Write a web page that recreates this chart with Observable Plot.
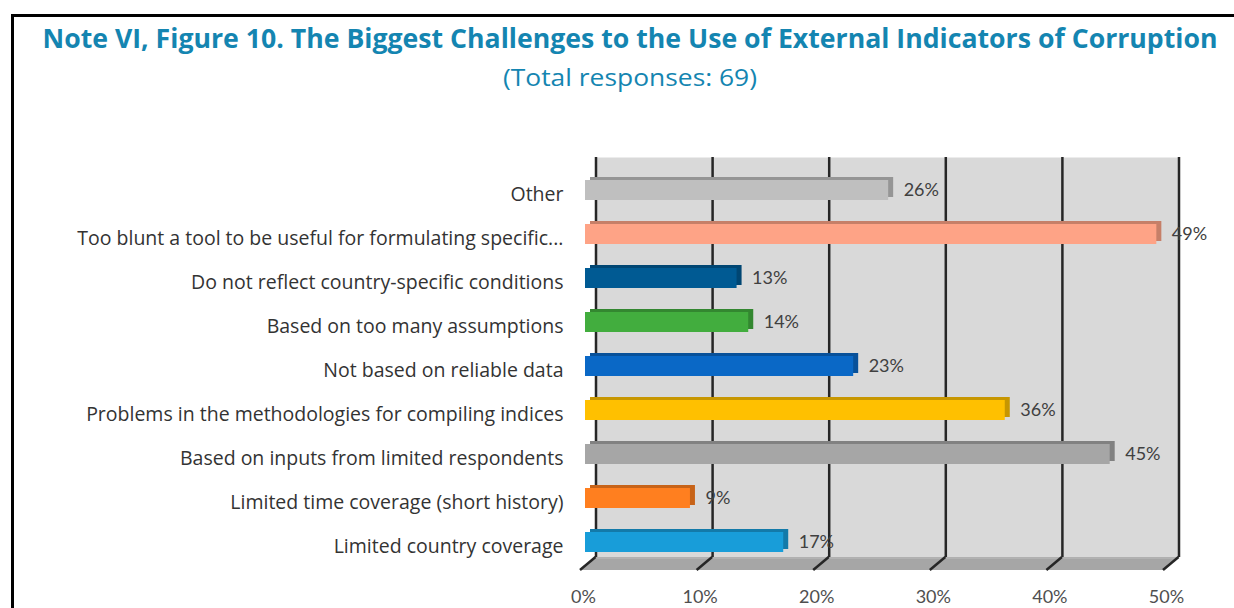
<!DOCTYPE html>
<html>
<head>
<meta charset="utf-8">
<script src="https://cdn.jsdelivr.net/npm/d3@7"></script>
<script src="https://cdn.jsdelivr.net/npm/@observablehq/plot@0.6"></script>
<style>
  html, body { margin: 0; padding: 0; background: #fff; overflow: hidden; width: 1234px; height: 608px; }
  #border { position: absolute; left: 11px; top: 14px; width: 2000px; height: 2000px;
            border-left: 3px solid #000; border-top: 3px solid #000; box-sizing: border-box; }
  #head { position: relative; height: 120px; }
  .ttl { position: absolute; left: 630px; white-space: nowrap; color: #1485b1; transform-origin: 0 0; }
  #title { top: 25px; font: 700 26px/26px "Open Sans", sans-serif; }
  #subtitle { top: 66px; font: 400 23px/23px "Open Sans", sans-serif; }
  #chart { position: relative; }
</style>
</head>
<body>
<div id="border"></div>
<div id="head">
  <div id="title" class="ttl">Note VI, Figure 10. The Biggest Challenges to the Use of External Indicators of Corruption</div>
  <div id="subtitle" class="ttl">(Total responses: 69)</div>
</div>
<div id="chart"></div>
<script>
// ---- data ----
const categories = [
  "Other",
  "Too blunt a tool to be useful for formulating specific...",
  "Do not reflect country-specific conditions",
  "Based on too many assumptions",
  "Not based on reliable data",
  "Problems in the methodologies for compiling indices",
  "Based on inputs from limited respondents",
  "Limited time coverage (short history)",
  "Limited country coverage"
];
const values = [26, 49, 13, 14, 23, 36, 45, 9, 17];
const colors = ["#bfbfbf", "#fea386", "#005a93", "#42ad3e", "#0a68c6", "#ffc000", "#a6a6a6", "#ff7f1f", "#189dd9"];
const tickValues = [0, 10, 20, 30, 40, 50];
const tickLabels = ["0%", "10%", "20%", "30%", "40%", "50%"];

const data = categories.map((c, i) => ({cat: c, value: values[i], color: colors[i],
  shade: d3.color(colors[i]).darker(0.7).formatHex()}));
const ticks = tickValues.map((t, i) => ({t, label: tickLabels[i]}));

// ---- title sizing ----
function fit(id, target) {
  const el = document.getElementById(id);
  const w = el.getBoundingClientRect().width;
  const s = target / w;
  el.style.transform = `scaleX(${s}) translateX(-50%)`;
}
fit("title", 1175);
fit("subtitle", 254);

// ---- 3D depth offsets ----
const backDx = 10.5, floorDy = 13, frontDx = -5;

// custom mark: floor and diagonal floor lines
function floorMark(index, scales, values, dim) {
  const sc = scales && scales.x ? scales : index;
  const dm = dim || scales;
  const x = sc.x;
  const yBack = dm.height - dm.marginBottom - floorDy;
  const yFront = dm.height - dm.marginBottom;
  const g = d3.create("svg:g");
  const x0 = x(tickValues[0]), x1 = x(tickValues[tickValues.length - 1]);
  g.append("path")
    .attr("d", `M${x0 + backDx},${yBack}L${x1 + backDx},${yBack}L${x1 + frontDx},${yFront}L${x0 + frontDx},${yFront}Z`)
    .attr("fill", "#a6a6a6");
  g.append("path")
    .attr("d", `M${x0 + backDx},${yBack + 1}L${x1 + backDx},${yBack + 1}`)
    .attr("stroke", "#bdbdbd").attr("stroke-width", 1);
  for (const t of tickValues) {
    g.append("line")
      .attr("x1", x(t) + backDx).attr("y1", yBack)
      .attr("x2", x(t) + frontDx).attr("y2", yFront)
      .attr("stroke", "#262626").attr("stroke-width", 2.5);
  }
  return g.node();
}

const plot = Plot.plot({
  width: 1234,
  height: 488,
  marginLeft: 585,
  marginRight: 66,
  marginTop: 37,
  marginBottom: 38,
  style: {background: "transparent", overflow: "visible"},
  x: {domain: [0, 50], range: [585, 1168], axis: null},
  y: {domain: categories, type: "band", range: [32.4, 458.6], padding: 0.55, axis: null},
  marks: [
    // back wall
    Plot.frame({fill: "#d9d9d9", stroke: "none", dx: backDx, insetBottom: floorDy}),
    // floor
    floorMark,
    // back gridlines
    Plot.ruleX(tickValues, {dx: backDx, insetBottom: floorDy, stroke: "#262626", strokeWidth: 2.5}),
    // bar extrusion (top + side faces)
    Plot.barX(data, {y: "cat", x: "value", fill: "shade", dx: 5, dy: -3}),
    // bar front faces
    Plot.barX(data, {y: "cat", x: "value", fill: "color"}),
    // value labels
    Plot.text(data, {y: "cat", x: "value", text: d => d.value + "%", dx: 15, textAnchor: "start",
      fill: "#404040", fontSize: 18, fontFamily: "Lato, sans-serif"}),
    // category labels
    Plot.axisY({tickSize: 0, tickPadding: 22, fontSize: 19.5, fontFamily: "Open Sans, sans-serif",
      color: "#333333", dy: 4, label: null}),
    // x tick labels
    Plot.text(ticks, {x: "t", text: "label", frameAnchor: "bottom", dy: 32, dx: -2,
      fill: "#4f4f4f", fontSize: 18, fontFamily: "Lato, sans-serif"})
  ]
});
document.getElementById("chart").appendChild(plot);
</script>
</body>
</html>
